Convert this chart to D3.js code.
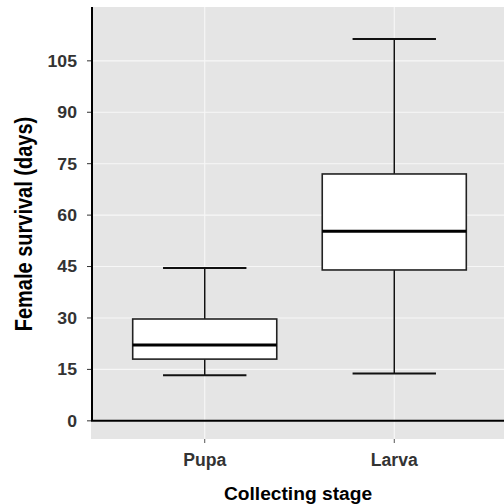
<!DOCTYPE html>
<html>
<head>
<meta charset="utf-8">
<script src="https://cdn.jsdelivr.net/npm/d3@7"></script>
<style>
  body { margin: 0; background: #fff; }
  svg { display: block; }
</style>
</head>
<body>
<div id="chart"></div>
<script>
// stage summaries
const stages = ["Pupa", "Larva"];
const whiskerLow = [13.3, 13.8];
const q1 = [18.0, 44.0];
const median = [22.1, 55.3];
const q3 = [29.7, 72.0];
const whiskerHigh = [44.6, 111.4];
const yTicks = [0, 15, 30, 45, 60, 75, 90, 105];

const width = 504, height = 504;
const panel = { left: 91, right: 504, top: 7, bottom: 439 };

const data = stages.map((s, i) => ({
    stage: s,
    lo: whiskerLow[i], q1: q1[i], med: median[i], q3: q3[i], hi: whiskerHigh[i]
}));

const svg = d3.select("#chart").append("svg")
    .attr("width", width)
    .attr("height", height)
    .style("font-family", "'Liberation Sans', Arial, sans-serif");

// discrete x with ggplot-ish 0.6 expansion (panel is cropped a bit on the right)
const x = d3.scaleLinear()
    .domain([0.4, stages.length + 0.6])
    .range([panel.left, 508]);
const y = d3.scaleLinear()
    .domain([-5.3, 120.7])
    .range([panel.bottom, panel.top]);

svg.append("rect")
    .attr("x", panel.left)
    .attr("y", panel.top)
    .attr("width", panel.right - panel.left)
    .attr("height", panel.bottom - panel.top)
    .attr("fill", "#e5e5e5");

// grid
svg.selectAll("line.hgrid")
    .data(yTicks)
    .enter().append("line")
    .attr("class", "hgrid")
    .attr("x1", panel.left).attr("x2", panel.right)
    .attr("y1", d => y(d)).attr("y2", d => y(d))
    .attr("stroke", "#f7f7f7")
    .attr("stroke-width", 1.1);

svg.selectAll("line.vgrid")
    .data(stages)
    .enter().append("line")
    .attr("class", "vgrid")
    .attr("x1", (d, i) => x(i + 1)).attr("x2", (d, i) => x(i + 1))
    .attr("y1", panel.top).attr("y2", panel.bottom)
    .attr("stroke", "#f7f7f7")
    .attr("stroke-width", 1.1);

const boxW = 0.76, capW = 0.44;

const g = svg.selectAll("g.box")
    .data(data)
    .enter().append("g")
    .attr("class", "box");

// whisker stems
g.append("line")
    .attr("x1", (d, i) => x(i + 1)).attr("x2", (d, i) => x(i + 1))
    .attr("y1", d => y(d.hi)).attr("y2", d => y(d.q3))
    .attr("stroke", "#111").attr("stroke-width", 1.5);
g.append("line")
    .attr("x1", (d, i) => x(i + 1)).attr("x2", (d, i) => x(i + 1))
    .attr("y1", d => y(d.q1)).attr("y2", d => y(d.lo))
    .attr("stroke", "#111").attr("stroke-width", 1.5);

// caps
["hi", "lo"].forEach(k => {
    g.append("line")
        .attr("x1", (d, i) => x(i + 1 - capW / 2)).attr("x2", (d, i) => x(i + 1 + capW / 2))
        .attr("y1", d => y(d[k])).attr("y2", d => y(d[k]))
        .attr("stroke", "#111").attr("stroke-width", 2);
});

g.append("rect")
    .attr("x", (d, i) => x(i + 1 - boxW / 2))
    .attr("width", x(1 + boxW / 2) - x(1 - boxW / 2))
    .attr("y", d => y(d.q3))
    .attr("height", d => y(d.q1) - y(d.q3))
    .attr("fill", "#fff")
    .attr("stroke", "#222")
    .attr("stroke-width", 1.6);

g.append("line")
    .attr("x1", (d, i) => x(i + 1 - boxW / 2)).attr("x2", (d, i) => x(i + 1 + boxW / 2))
    .attr("y1", d => y(d.med)).attr("y2", d => y(d.med))
    .attr("stroke", "#000").attr("stroke-width", 3);

// axis lines
svg.append("line")
    .attr("x1", panel.left + 1).attr("x2", panel.left + 1)
    .attr("y1", panel.top).attr("y2", y(0))
    .attr("stroke", "#000").attr("stroke-width", 2);
svg.append("line")
    .attr("x1", panel.left).attr("x2", panel.right)
    .attr("y1", y(0)).attr("y2", y(0))
    .attr("stroke", "#000").attr("stroke-width", 2);

// y ticks + labels
svg.selectAll("line.ytick")
    .data(yTicks)
    .enter().append("line")
    .attr("x1", panel.left - 4).attr("x2", panel.left)
    .attr("y1", d => y(d)).attr("y2", d => y(d))
    .attr("stroke", "#333").attr("stroke-width", 1);

svg.selectAll("text.ylab")
    .data(yTicks)
    .enter().append("text")
    .attr("class", "ylab")
    .attr("transform", d => `translate(77, ${y(d)}) scale(1.07, 1)`)
    .attr("dy", "0.36em")
    .attr("text-anchor", "end")
    .style("font-size", "16.5px")
    .style("font-weight", "bold")
    .attr("fill", "#333")
    .text(d => d);

// x ticks + labels
svg.selectAll("line.xtick")
    .data(stages)
    .enter().append("line")
    .attr("x1", (d, i) => x(i + 1)).attr("x2", (d, i) => x(i + 1))
    .attr("y1", panel.bottom).attr("y2", panel.bottom + 4)
    .attr("stroke", "#555").attr("stroke-width", 1);

svg.selectAll("text.xlab")
    .data(stages)
    .enter().append("text")
    .attr("class", "xlab")
    .attr("x", (d, i) => x(i + 1))
    .attr("y", 466)
    .attr("text-anchor", "middle")
    .style("font-size", "17.6px")
    .style("font-weight", "bold")
    .attr("fill", "#333")
    .text(d => d);

// titles
svg.append("text")
    .attr("x", 298)
    .attr("y", 500)
    .attr("text-anchor", "middle")
    .style("font-size", "19.2px")
    .style("font-weight", "bold")
    .attr("fill", "#000")
    .text("Collecting stage");

svg.append("text")
    .attr("transform", `translate(32, 224) scale(1.15, 1) rotate(-90)`)
    .attr("text-anchor", "middle")
    .style("font-size", "20px")
    .style("font-weight", "bold")
    .attr("fill", "#000")
    .text("Female survival (days)");
</script>
</body>
</html>
